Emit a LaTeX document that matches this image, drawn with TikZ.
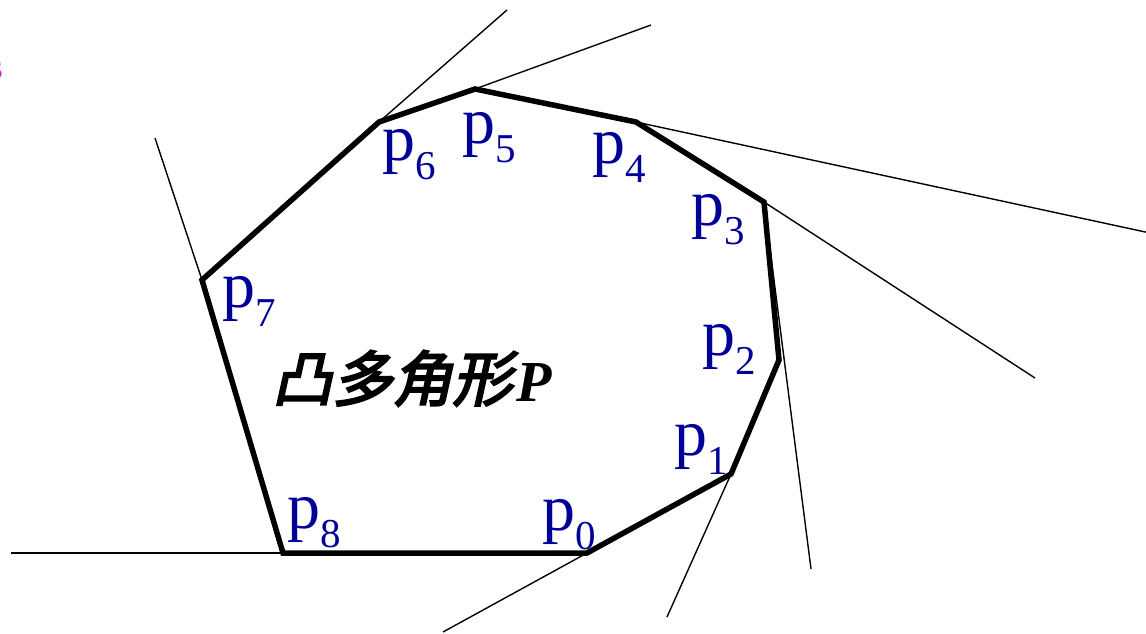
\documentclass[tikz,border=0pt]{standalone}
\usepackage{fontspec}
\setmainfont{Liberation Serif}
\newfontfamily\cjk[FakeSlant=0.22,FakeBold=3.5]{Noto Sans CJK SC}
\definecolor{lblue}{RGB}{0,0,153}
\definecolor{pinkc}{RGB}{230,20,200}
\tikzset{
  hull/.style={line width=5.5pt, line join=miter, line cap=butt},
  ext/.style={line width=1.4pt},
  plabel/.style={anchor=base west, inner sep=0pt, text=lblue, font=\fontsize{66}{66}\selectfont}
}
\newcommand{\pl}[1]{p\raisebox{-19pt}{\fontsize{41}{41}\selectfont #1}}
\begin{document}
\begin{tikzpicture}[x=1pt,y=-1pt]
\useasboundingbox (0,0) rectangle (1146,634);
\clip (0,0) rectangle (1146,634);
% vertices
\coordinate (p0) at (587,553);
\coordinate (p1) at (731,474);
\coordinate (p2) at (779,360);
\coordinate (p3) at (764,202);
\coordinate (p4) at (636,122);
\coordinate (p5) at (475,89);
\coordinate (p6) at (379,122);
\coordinate (p7) at (202,280);
\coordinate (p8) at (283,553);
% free ends of extension lines
\coordinate (e8) at (11,553);
\coordinate (e0) at (443,632);
\coordinate (e1) at (667,617);
\coordinate (e2) at (811,569);
\coordinate (e3) at (1035,378);
\coordinate (e4) at (1150,233);
\coordinate (e5) at (651,25);
\coordinate (e6) at (507,10);
\coordinate (e7) at (155,138);
% extension lines
\draw[ext] (p8) -- (e8);
\draw[ext] (p0) -- (e0);
\draw[ext] (p1) -- (e1);
\draw[ext] (p3) -- (e2);
\draw[ext] (p3) -- (e3);
\draw[ext] (p4) -- (e4);
\draw[ext] (p5) -- (e5);
\draw[ext] (p6) -- (e6);
\draw[ext] (p7) -- (e7);
% polygon
\draw[hull] (p0) -- (p1) -- (p2) -- (p3) -- (p4) -- (p5) -- (p6) -- (p7) -- (p8) -- cycle;
% labels
\node[plabel] (l0) at (542,530) {\pl{0}};
\node[plabel] (l1) at (674,455) {\pl{1}};
\node[plabel] (l2) at (702,355) {\pl{2}};
\node[plabel] (l3) at (691,225) {\pl{3}};
\node[plabel] (l4) at (592,163) {\pl{4}};
\node[plabel] (l5) at (462,143) {\pl{5}};
\node[plabel] (l6) at (382,160) {\pl{6}};
\node[plabel] (l7) at (222,307) {\pl{7}};
\node[plabel] (l8) at (287,528) {\pl{8}};
% title
\node[anchor=base west, inner sep=0pt] (title) at (272,401)
  {{\cjk\fontsize{60}{60}\selectfont 凸多角形}\kern4pt{\fontsize{58}{58}\selectfont\bfseries\itshape P}};
% clipped pink letter at the left edge
\node[anchor=base east, inner sep=0pt, text=pinkc, font=\fontsize{34}{34}\selectfont] (s) at (3,78) {s};
\end{tikzpicture}
\end{document}
